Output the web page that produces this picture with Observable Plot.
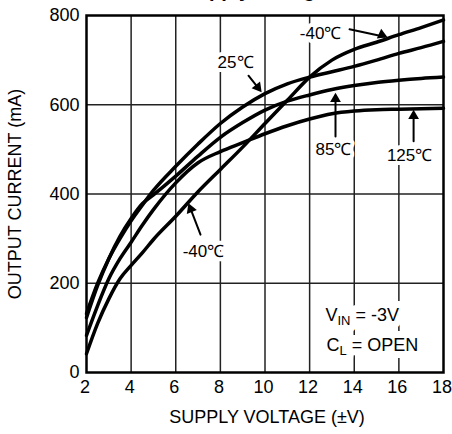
<!DOCTYPE html>
<html><head><meta charset="utf-8">
<script src="https://cdn.jsdelivr.net/npm/d3@7"></script>
<script src="https://cdn.jsdelivr.net/npm/@observablehq/plot@0.6"></script>
<style>
body{margin:0;background:#fff;}
#wrap{position:relative;width:452px;height:434px;overflow:hidden;font-family:"Liberation Sans",Arial,sans-serif;}
#title{position:absolute;left:0;width:510px;text-align:center;top:-20px;font-weight:bold;font-size:20px;line-height:20px;color:#000;}
svg{display:block;}
</style></head><body><div id="wrap"><div id="title">Supply Voltage</div></div>
<script>
// ---- data ----
const volts   = [2,2.5,3,3.5,4,4.5,5,6,7,8,9,10,11,12,13,14,15,16,17,18];
const curM40  = [42,110,165,210,240,268,298,350,405,455,505,558,610,662,700,724,740,757,773,790];
const cur25   = [132,200,255,300,340,375,408,462,512,558,595,625,647,662,674,686,700,715,728,742];
const cur85   = [123,195,255,305,345,378,398,440,485,527,560,588,608,622,634,643,650,655,659,662];
const cur125  = [83,150,210,255,292,330,365,425,470,495,515,535,553,568,580,586,589,590,591,592];
const xTicks  = [2,4,6,8,10,12,14,16,18];
const yTicks  = [0,200,400,600,800];
const xGrid   = [4,6,8,10,12,14,16];
const yGrid   = [200,400,600];
const labelText = ["25℃","-40℃","85℃","125℃","-40℃"];
const labelX    = [8.68,12.49,13.07,16.48,7.24];
const labelY    = [695,760,500,486,270];
const arrowX1   = [9.26,13.79,13.16,16.66,7.11];
const arrowY1   = [665,769,529,518,309];
const arrowX2   = [9.85,15.49,13.16,16.66,6.57];
const arrowY2   = [628,751,627,589,379];
const arrowBend = [0,12,0,0,0];
const noteText  = ["VIN = -3V","CL = OPEN"];
const noteX     = [12.71,12.76];
const noteY     = [128,61];

// ---- layout ----
const W = 452, H = 434, mL = 86, mR = 9, mT = 15, mB = 62;
const kx = (W - mL - mR) / 16, ky = (H - mT - mB) / 800;

const series = [curM40, cur25, cur85, cur125].map(arr => volts.map((v, i) => ({x: v, y: arr[i]})));
const labels = labelText.map((t, i) => ({t, x: labelX[i], y: labelY[i]}));
const arrows = arrowX1.map((x1, i) => ({x1, y1: arrowY1[i], x2: arrowX2[i], y2: arrowY2[i], bend: arrowBend[i]}));
const heads = arrows.map(a => {
  const sx0 = (a.x2 - a.x1) * kx, sy0 = -(a.y2 - a.y1) * ky;
  const ang = Math.atan2(sy0, sx0) + a.bend * Math.PI / 180;
  const sx = Math.cos(ang), sy = Math.sin(ang);
  const off = 6.2;
  return {x: a.x2 - off * sx / kx, y: a.y2 + off * sy / ky, rot: Math.atan2(sx, -sy) * 180 / Math.PI};
});
const notes = noteText.map((t, i) => ({t, x: noteX[i], y: noteY[i]}));

const font = "Liberation Sans, Arial, sans-serif";
const chart = Plot.plot({
  width: W, height: H,
  marginLeft: mL, marginRight: mR, marginTop: mT, marginBottom: mB,
  style: {fontFamily: font, color: "#000", background: "#fff"},
  x: {domain: [2, 18]},
  y: {domain: [0, 800]},
  marks: [
    Plot.ruleX(xGrid, {stroke: "#222", strokeWidth: 1.5}),
    Plot.ruleY(yGrid, {stroke: "#222", strokeWidth: 1.5}),
    ...series.map(s => Plot.line(s, {x: "x", y: "y", stroke: "#000", strokeWidth: 3.5, curve: "monotone-x"})),
    Plot.text(labels, {x: "x", y: "y", text: "t", fontSize: 17, fill: "#000", stroke: "#fff", strokeWidth: 8, paintOrder: "stroke"}),
    Plot.text(notes, {x: "x", y: "y", text: "t", fontSize: 18, textAnchor: "start", fill: "#fff", stroke: "#fff", strokeWidth: 14, className: "vin"}),
    Plot.text(notes, {x: "x", y: "y", text: "t", fontSize: 18, textAnchor: "start", fill: "#000", className: "vin"}),
    Plot.arrow(arrows, {x1: "x1", y1: "y1", x2: "x2", y2: "y2", bend: "bend", stroke: "#000", strokeWidth: 2, headLength: 0, insetEnd: 3}),
    Plot.dot(heads, {x: "x", y: "y", symbol: "triangle", r: 4, fill: "#000", stroke: "none", rotate: "rot"}),
    Plot.frame({stroke: "#000", strokeWidth: 2.5}),
    Plot.axisX({ticks: xTicks, tickSize: 0, tickPadding: 8, fontSize: 18, dx: -1.5, label: null}),
    Plot.axisY({ticks: yTicks, tickSize: 0, tickPadding: 7, fontSize: 18, label: null}),
    Plot.text(["OUTPUT CURRENT (mA)"], {frameAnchor: "left", textAnchor: "middle", dx: -71, rotate: -90, fontSize: 18, text: d => d}),
    Plot.text(["SUPPLY VOLTAGE (±V)"], {frameAnchor: "bottom", textAnchor: "middle", dy: 50, dx: 2, fontSize: 18, text: d => d})
  ]
});

// subscripts for VIN / CL
d3.select(chart).selectAll("g.vin text").each(function() {
  const el = d3.select(this);
  const t = el.text();
  el.text("");
  const main = t[0], sub = t.startsWith("VIN") ? "IN" : "L", rest = t.slice(1 + sub.length);
  el.append("tspan").text(main);
  el.append("tspan").attr("font-size", 13).attr("dy", 4).text(sub);
  el.append("tspan").attr("dy", -4).text(rest);
});

document.getElementById("wrap").appendChild(chart);
</script>
</body></html>
